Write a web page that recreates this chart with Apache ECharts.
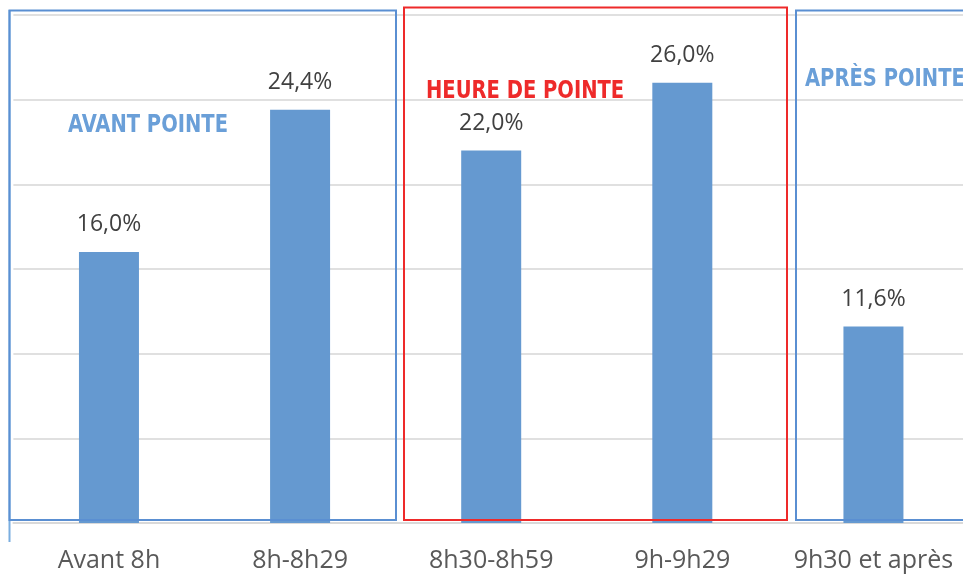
<!DOCTYPE html>
<html>
<head>
<meta charset="utf-8">
<script src="https://cdn.jsdelivr.net/npm/echarts@6/dist/echarts.min.js"></script>
<style>
html,body{margin:0;padding:0;background:#fff;}
#c{width:963px;height:578px;}
</style>
</head>
<body>
<div id="c"></div>
<script>
const categories = ['Avant 8h', '8h-8h29', '8h30-8h59', '9h-9h29', '9h30 et après'];
const values = [16.0, 24.4, 22.0, 26.0, 11.6];
const yTicks = [0, 5, 10, 15, 20, 25, 30];
const groupLabels = ['AVANT POINTE', 'HEURE DE POINTE', 'APRÈS POINTE'];

const chart = echarts.init(document.getElementById('c'));
const titleFont = "'DejaVu Sans Condensed', sans-serif";
const blue = '#5a8fd2';
const sx = 0.868;
chart.setOption({
  animation: false,
  grid: { left: 13.4, width: 955.6, top: 15, bottom: 55, outerBoundsMode: 'none', containLabel: false },
  xAxis: {
    type: 'category',
    data: categories,
    axisTick: { show: false },
    axisLine: { lineStyle: { color: '#d9d9d9', width: 2 } },
    axisLabel: { interval: 0, color: '#595959', fontFamily: 'Open Sans', fontSize: 25, margin: 25 }
  },
  yAxis: {
    type: 'value',
    min: yTicks[0],
    max: yTicks[yTicks.length - 1],
    interval: yTicks[1] - yTicks[0],
    axisLabel: { show: false },
    axisLine: { show: false },
    axisTick: { show: false },
    splitLine: { lineStyle: { color: '#e0e0e0', width: 2 } }
  },
  series: [{
    type: 'bar',
    data: values,
    barWidth: 60,
    itemStyle: { color: '#6599d0' },
    label: {
      show: true,
      position: 'top',
      distance: 16,
      color: '#404040',
      fontFamily: 'Open Sans',
      fontSize: 23,
      formatter: p => p.value.toFixed(1).replace('.', ',') + '%'
    }
  }],
  graphic: [
    { type: 'line', shape: { x1: 9.5, y1: 10, x2: 9.5, y2: 542 }, style: { stroke: '#7aaee0', lineWidth: 2 }, z: 10 },
    { type: 'rect', shape: { x: 9.5, y: 10.5, width: 386.5, height: 509.5 }, style: { stroke: blue, fill: 'none', lineWidth: 2 }, z: 10 },
    { type: 'rect', shape: { x: 404, y: 7.5, width: 383, height: 512.5 }, style: { stroke: '#ee2a2a', fill: 'none', lineWidth: 2 }, z: 10 },
    { type: 'rect', shape: { x: 796, y: 10.5, width: 200, height: 509.5 }, style: { stroke: blue, fill: 'none', lineWidth: 2 }, z: 10 },
    { type: 'text', x: 68, y: 113, scaleX: sx, style: { text: groupLabels[0], fill: '#6a9fd8', font: "bold 25px " + titleFont }, z: 11 },
    { type: 'text', x: 426, y: 79, scaleX: sx, style: { text: groupLabels[1], fill: '#ee2a2a', font: "bold 25px " + titleFont }, z: 11 },
    { type: 'text', x: 805, y: 67, scaleX: sx, style: { text: groupLabels[2], fill: '#6a9fd8', font: "bold 25px " + titleFont }, z: 11 }
  ]
});
</script>
</body>
</html>
